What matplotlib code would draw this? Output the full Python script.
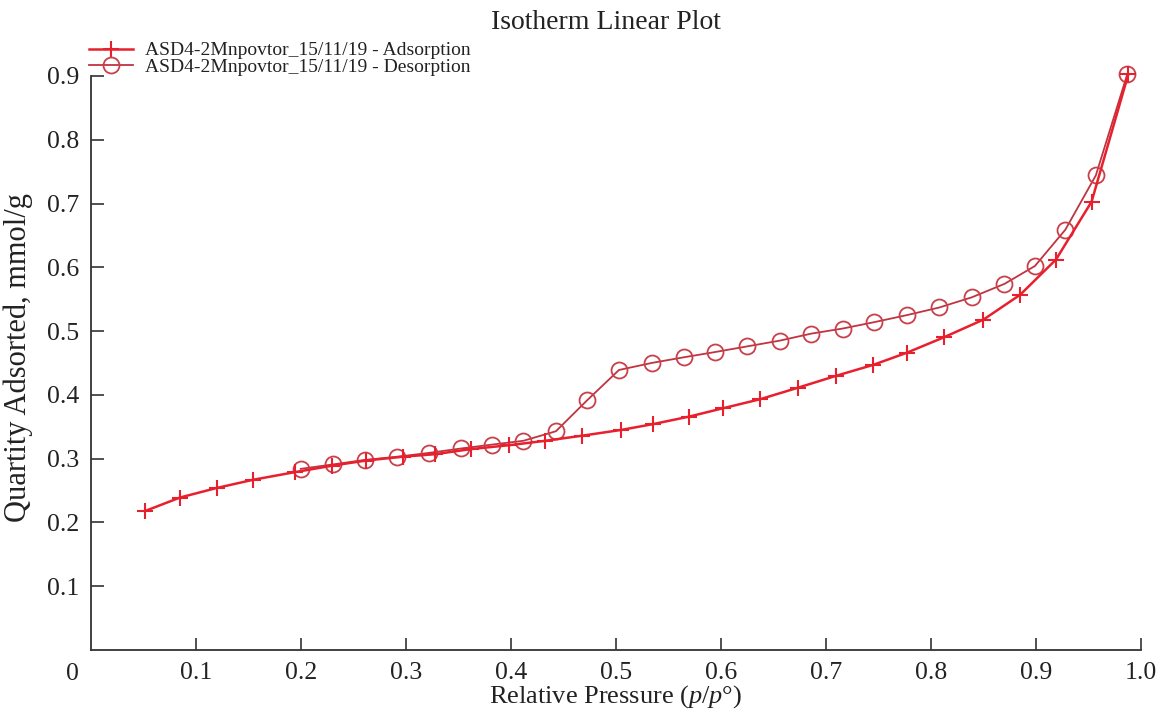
import matplotlib
matplotlib.use("Agg")
from matplotlib import pyplot as plt

plt.rcParams['font.family'] = ['Liberation Serif', 'DejaVu Serif']
plt.rcParams['mathtext.fontset'] = 'custom'
plt.rcParams['mathtext.it'] = 'Liberation Serif:italic'
plt.rcParams['mathtext.rm'] = 'Liberation Serif'

# relative pressure / quantity adsorbed (mmol/g)
ads_p = [0.052, 0.085, 0.120, 0.155, 0.195, 0.230, 0.262, 0.297, 0.328, 0.362,
         0.398, 0.433, 0.468, 0.505, 0.535, 0.570, 0.602, 0.637, 0.673, 0.710,
         0.745, 0.777, 0.812, 0.850, 0.885, 0.919, 0.953, 0.988]
ads_q = [0.218, 0.239, 0.254, 0.267, 0.279, 0.289, 0.297, 0.303, 0.307, 0.315,
         0.321, 0.328, 0.336, 0.345, 0.354, 0.366, 0.379, 0.393, 0.411, 0.430,
         0.447, 0.466, 0.490, 0.518, 0.557, 0.612, 0.703, 0.903]

des_p = [0.987, 0.957, 0.928, 0.899, 0.870, 0.839, 0.808, 0.777, 0.746, 0.716,
         0.686, 0.656, 0.625, 0.594, 0.565, 0.534, 0.503, 0.473, 0.443, 0.412,
         0.382, 0.353, 0.322, 0.292, 0.261, 0.231, 0.200]
des_q = [0.903, 0.744, 0.659, 0.602, 0.574, 0.553, 0.537, 0.525, 0.514, 0.504,
         0.496, 0.485, 0.476, 0.467, 0.459, 0.450, 0.439, 0.392, 0.343, 0.328,
         0.322, 0.316, 0.309, 0.303, 0.298, 0.291, 0.284]

ads_label = 'ASD4-2Mnpovtor_15/11/19 - Adsorption'
des_label = 'ASD4-2Mnpovtor_15/11/19 - Desorption'

fig = plt.figure(figsize=(11.58, 7.12), dpi=100)
ax = fig.add_axes([0.0783, 0.0871, 0.9070, 0.8062])

ax.plot(ads_p, ads_q, color='#e8202e', lw=1.8, marker='+', ms=12, mew=1.5,
        label=ads_label, zorder=3, clip_on=False)
ax.plot(des_p, des_q, color='#c03340', lw=1.3, marker='o', ms=11.5,
        mfc='none', mec='#c8404a', mew=1.3, label=des_label, zorder=2,
        clip_on=False)

ax.set_xlim(0, 1.0)
ax.set_ylim(0, 0.9)
ax.set_xticks([0.1, 0.2, 0.3, 0.4, 0.5, 0.6, 0.7, 0.8, 0.9, 1.0])
ax.set_xticklabels(['0.1', '0.2', '0.3', '0.4', '0.5', '0.6', '0.7', '0.8', '0.9', '1.0'])
ax.set_yticks([0.1, 0.2, 0.3, 0.4, 0.5, 0.6, 0.7, 0.8, 0.9])
ax.tick_params(direction='in', length=9, width=1.2, color='#333333',
               labelsize=18.5, labelcolor='#222222', pad=8)
ax.tick_params(axis='x', pad=9)
ax.text(-0.017, -0.041, '0', transform=ax.transAxes, ha='center', va='center',
        fontsize=18.5, color='#222222')

for side in ['top', 'right']:
    ax.spines[side].set_visible(False)
for side in ['left', 'bottom']:
    ax.spines[side].set_color('#333333')
    ax.spines[side].set_linewidth(1.3)

ax.set_xlabel(r'Relative Pressure ($p/p$°)', fontsize=19, color='#222222')
ax.xaxis.label.set_va('bottom')
ax.xaxis.set_label_coords(0.5, -0.1045)
ax.set_ylabel('Quartity Adsorted, mmol/g', fontsize=22, color='#222222')
ax.yaxis.label.set_va('center')
ax.yaxis.set_label_coords(-0.0685, 0.51)
fig.text(0.523, 0.969, 'Isotherm Linear Plot', ha='center', va='center',
         fontsize=20, color='#222222')

leg = ax.legend(loc='lower left', bbox_to_anchor=(-0.002, 1.0), frameon=False,
                fontsize=14, handlelength=2.3, handletextpad=0.6,
                labelspacing=-0.05, borderpad=0, borderaxespad=0)
for t in leg.get_texts():
    t.set_color('#222222')

fig.savefig('out.png', dpi=100)
